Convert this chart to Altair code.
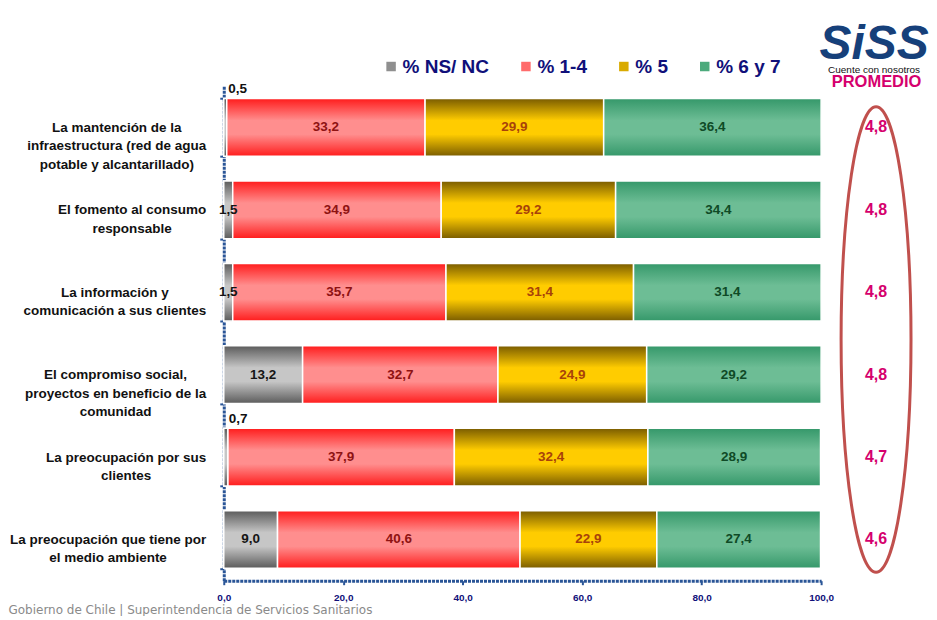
import altair as alt
import pandas as pd

# ---------------- data ----------------
categories = [
    "La mantención de la|infraestructura (red de agua|potable y alcantarillado)",
    "El fomento al consumo|responsable",
    "La información y|comunicación a sus clientes",
    "El compromiso social,|proyectos en beneficio de la|comunidad",
    "La preocupación por sus|clientes",
    "La preocupación que tiene por|el medio ambiente",
]
series = ["% NS/ NC", "% 1-4", "% 5", "% 6 y 7"]
ns_nc = [0.5, 1.5, 1.5, 13.2, 0.7, 9.0]
r1_4 = [33.2, 34.9, 35.7, 32.7, 37.9, 40.6]
r5 = [29.9, 29.2, 31.4, 24.9, 32.4, 22.9]
r6_7 = [36.4, 34.4, 31.4, 29.2, 28.9, 27.4]
promedio = [4.8, 4.8, 4.8, 4.8, 4.7, 4.6]
x_ticks = [0, 20, 40, 60, 80, 100]
footer = "Gobierno de Chile | Superintendencia de Servicios Sanitarios"

# ---------------- styles ----------------
FONT = "Liberation Sans"
NAVY = "#10107a"
AXIS_BLUE = "#2a5597"
MAGENTA = "#d5006d"
legend_colors = ["#8f8f8f", "#ff6b6b", "#d9aa00", "#4caa7c"]
grad_edges = ["#5b5b5b", "#ff1c1c", "#7a5c00", "#35986a"]
grad_mids = ["#c6c6c6", "#ff8e8e", "#ffcc00", "#6dbd95"]
label_colors = ["#151515", "#8e1212", "#a8420a", "#0f4a26"]
YLAB_SIZE = 13.5
YLAB_GAP = 14

# Arial/Liberation Sans Bold advance widths (1/1000 em), used only to place the
# centre of each wrapped, centre-aligned category label block.
BOLD_W = {
    " ": 278, ",": 278, "(": 333, ")": 333, "E": 667, "L": 611,
    "a": 556, "b": 611, "c": 556, "d": 611, "e": 556, "f": 333, "g": 611,
    "h": 611, "i": 278, "l": 278, "m": 889, "n": 611, "o": 611, "ó": 611,
    "p": 611, "q": 611, "r": 389, "s": 556, "t": 333, "u": 611, "v": 556,
    "y": 556,
}


def block_half_width(label):
    lines = label.split("|")
    wmax = max(sum(BOLD_W.get(ch, 556) for ch in ln) for ln in lines)
    return wmax / 1000.0 * YLAB_SIZE / 2.0


rows = []
for ci, cat in enumerate(categories):
    for si, (s, vals) in enumerate(zip(series, [ns_nc, r1_4, r5, r6_7])):
        rows.append({"category": cat, "series": s, "order": si, "value": vals[ci]})
df = pd.DataFrame(rows)

prom_df = pd.DataFrame({"category": categories, "promedio": promedio})

pad_conditions = [
    {"test": f"datum.value === '{c}'", "value": round(YLAB_GAP + block_half_width(c), 1)}
    for c in categories
]

y_scale = alt.Scale(domain=categories, paddingInner=0.3, paddingOuter=0.15)
y_axis = alt.Axis(
    title=None,
    labelExpr="split(datum.label, '|')",
    labelAlign="center",
    labelBaseline="middle",
    labelLineHeight=18.5,
    labelFont=FONT,
    labelFontSize=YLAB_SIZE,
    labelFontWeight="bold",
    labelColor="#111111",
    labelPadding={"condition": pad_conditions, "value": 100},
    labelLimit=400,
    tickBand="extent",
    tickSize=4,
    tickColor=AXIS_BLUE,
    tickWidth=2,
    domainColor=AXIS_BLUE,
    domainWidth=3,
    domainDash=[3, 1],
    grid=False,
)
y_enc = alt.Y("category:N", scale=y_scale, axis=y_axis)

x_scale = alt.Scale(domain=[0, 100], nice=False, zero=True)
x_axis = alt.Axis(
    values=x_ticks,
    labelExpr="replace(format(datum.value, '.1f'), '.', ',')",
    labelFont=FONT,
    labelFontSize=10,
    labelFontWeight="bold",
    labelColor=NAVY,
    labelPadding=8,
    labelFlush=False,
    tickSize=4,
    tickColor=AXIS_BLUE,
    tickWidth=2,
    domainColor=AXIS_BLUE,
    domainWidth=3,
    domainDash=[3, 1],
    grid=False,
    title=footer,
    titleX=-216,
    titleY=33,
    titleAlign="left",
    titleAnchor="start",
    titleBaseline="alphabetic",
    titleFont="DejaVu Sans",
    titleFontSize=12,
    titleFontWeight="normal",
    titleColor="#8a8a8a",
)

base = alt.Chart(df).transform_stack(
    stack="value",
    groupby=["category"],
    as_=["x0", "x1"],
    sort=[alt.SortField("order", order="ascending")],
).transform_calculate(
    xm="(datum.x0 + datum.x1) / 2",
    label="replace(format(datum.value, '.1f'), '.', ',')",
)

legend = alt.Legend(
    title=None,
    orient="none",
    legendX=158,
    legendY=-29.5,
    direction="horizontal",
    columns=4,
    symbolType="square",
    symbolSize=90,
    symbolStrokeWidth=0,
    labelFont=FONT,
    labelFontSize=19,
    labelFontWeight="bold",
    labelColor=NAVY,
    labelOffset=2,
    labelLimit=300,
    columnPadding=27,
    padding=0,
)

bars_base = base.mark_bar(stroke="white", strokeWidth=1.5).encode(
    x=alt.X("x0:Q", scale=x_scale, axis=x_axis),
    x2="x1:Q",
    y=y_enc,
    color=alt.Color("series:N", scale=alt.Scale(domain=series, range=legend_colors), legend=legend),
)

layers = [bars_base]
for i, s in enumerate(series):
    grad = alt.Gradient(
        gradient="linear",
        x1=0, x2=0, y1=0, y2=1,
        stops=[
            alt.GradientStop(color=grad_edges[i], offset=0),
            alt.GradientStop(color=grad_mids[i], offset=0.38),
            alt.GradientStop(color=grad_mids[i], offset=0.62),
            alt.GradientStop(color=grad_edges[i], offset=1),
        ],
    )
    layers.append(
        base.transform_filter(alt.datum.series == s)
        .mark_bar(fill=grad, stroke="white", strokeWidth=1.5)
        .encode(x=alt.X("x0:Q", scale=x_scale, axis=x_axis), x2="x1:Q", y=y_enc)
    )

for i, s in enumerate(series):
    layers.append(
        base.transform_filter((alt.datum.series == s) & (alt.datum.value >= 1))
        .mark_text(font=FONT, fontSize=13.5, fontWeight="bold", color=label_colors[i], baseline="middle")
        .encode(x=alt.X("xm:Q", scale=x_scale, axis=x_axis), y=y_enc, text="label:N")
    )

layers.append(
    base.transform_filter(alt.datum.value < 1)
    .mark_text(font=FONT, fontSize=13.5, fontWeight="bold", color="#111111",
               align="left", baseline="middle", dx=3, dy=-38)
    .encode(x=alt.X("xm:Q", scale=x_scale, axis=x_axis), y=y_enc, text="label:N")
)

left = alt.layer(*layers).properties(width=598, height=495)

# ---------------- right panel: PROMEDIO ----------------
ell_w, ell_h = 70.0, 466.0
a = ell_w / ell_h
k = 0.5523
ka = k * a
ellipse_path = (
    f"M0,-1 C{ka:.4f},-1 {a:.4f},-{k} {a:.4f},0 "
    f"C{a:.4f},{k} {ka:.4f},1 0,1 "
    f"C-{ka:.4f},1 -{a:.4f},{k} -{a:.4f},0 "
    f"C-{a:.4f},-{k} -{ka:.4f},-1 0,-1 Z"
)

ellipse = alt.Chart(pd.DataFrame({"k": [0]})).mark_point(
    shape=ellipse_path, size=ell_h ** 2, filled=False, stroke="#c0504d",
    strokeWidth=3, opacity=1, yOffset=6,
).encode(
    x=alt.X("k:Q", scale=alt.Scale(domain=[-1, 1]),
            axis=alt.Axis(orient="top", title="PROMEDIO", labels=False, ticks=False,
                          domain=False, grid=False, titleFont=FONT, titleFontSize=16.5,
                          titleFontWeight="bold", titleColor=MAGENTA, titlePadding=-3)),
)

prom_text = alt.Chart(prom_df).transform_calculate(
    label="replace(format(datum.promedio, '.1f'), '.', ',')"
).mark_text(font=FONT, fontSize=16, fontWeight="bold", color=MAGENTA, baseline="middle").encode(
    y=alt.Y("category:N", scale=y_scale, axis=None),
    text="label:N",
)

right = alt.layer(ellipse, prom_text).properties(
    width=60,
    height=495,
    title=alt.TitleParams(
        text="SiSS",
        subtitle="Cuente con nosotros",
        font=FONT,
        fontSize=48,
        fontStyle="italic",
        fontWeight="bold",
        color="#16407a",
        subtitleFont=FONT,
        subtitleFontSize=10,
        subtitleColor="#111111",
        subtitlePadding=-4,
        anchor="middle",
        offset=-2,
        dx=-2,
    ),
)

chart = alt.hconcat(left, right, spacing=25, bounds="flush").properties(
    padding={"left": 0, "top": 13, "right": 0, "bottom": 0}
).configure_view(stroke=None)

chart.save("out.html", embed_options={"renderer": "svg", "actions": False})
